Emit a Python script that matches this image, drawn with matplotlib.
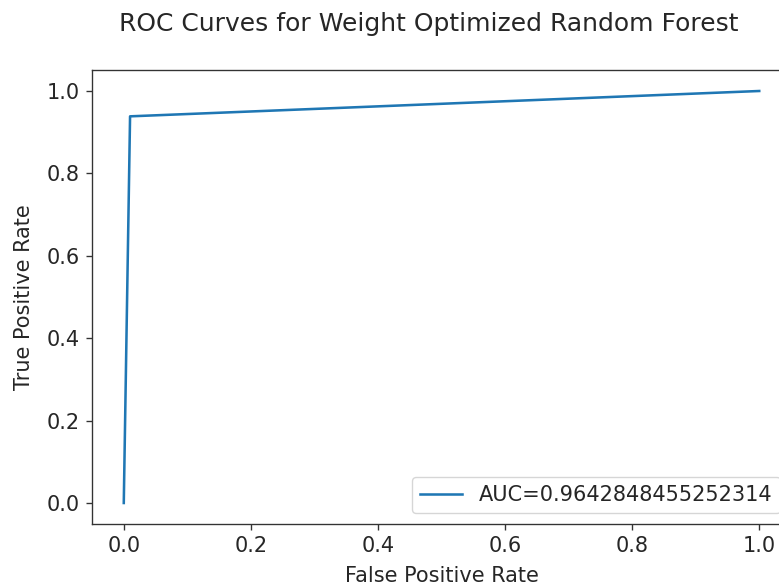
import matplotlib
matplotlib.use("Agg")
import matplotlib.pyplot as plt

fpr = [0.0, 0.0099, 1.0]
tpr = [0.0, 0.9385, 1.0]
auc_label = "AUC=0.9642848455252314"

s = 1.226   # geometry scale
fs = 1.5    # font scale
fig = plt.figure(figsize=(7.79, 5.86), dpi=100)
ax = fig.add_axes([92 / 779, 1 - 523.6 / 586, 699 / 779, 453.2 / 586])
ax.plot(fpr, tpr, label=auc_label, linewidth=1.5 * s)
ax.set_xlim(-0.05, 1.05)
ax.set_ylim(-0.05, 1.05)
ax.set_xticks([0.0, 0.2, 0.4, 0.6, 0.8, 1.0])
ax.set_yticks([0.0, 0.2, 0.4, 0.6, 0.8, 1.0])
ax.tick_params(labelsize=10 * fs, width=0.8 * s, length=3.5 * s, pad=3.5 * s,
               colors="#333333", labelcolor="#262626")
for sp in ax.spines.values():
    sp.set_linewidth(0.8 * s)
    sp.set_color("#333333")
ax.set_xlabel("False Positive Rate", fontsize=10 * fs, labelpad=7.5, color="#262626")
ax.set_ylabel("True Positive Rate", fontsize=10 * fs, labelpad=9, color="#262626")
ax.legend(loc="lower right", fontsize=10 * fs, labelcolor="#262626")
fig.suptitle("ROC Curves for Weight Optimized Random Forest", fontsize=12 * fs,
             x=0.551, y=0.98, color="#262626")
fig.savefig("out.png", dpi=100)
